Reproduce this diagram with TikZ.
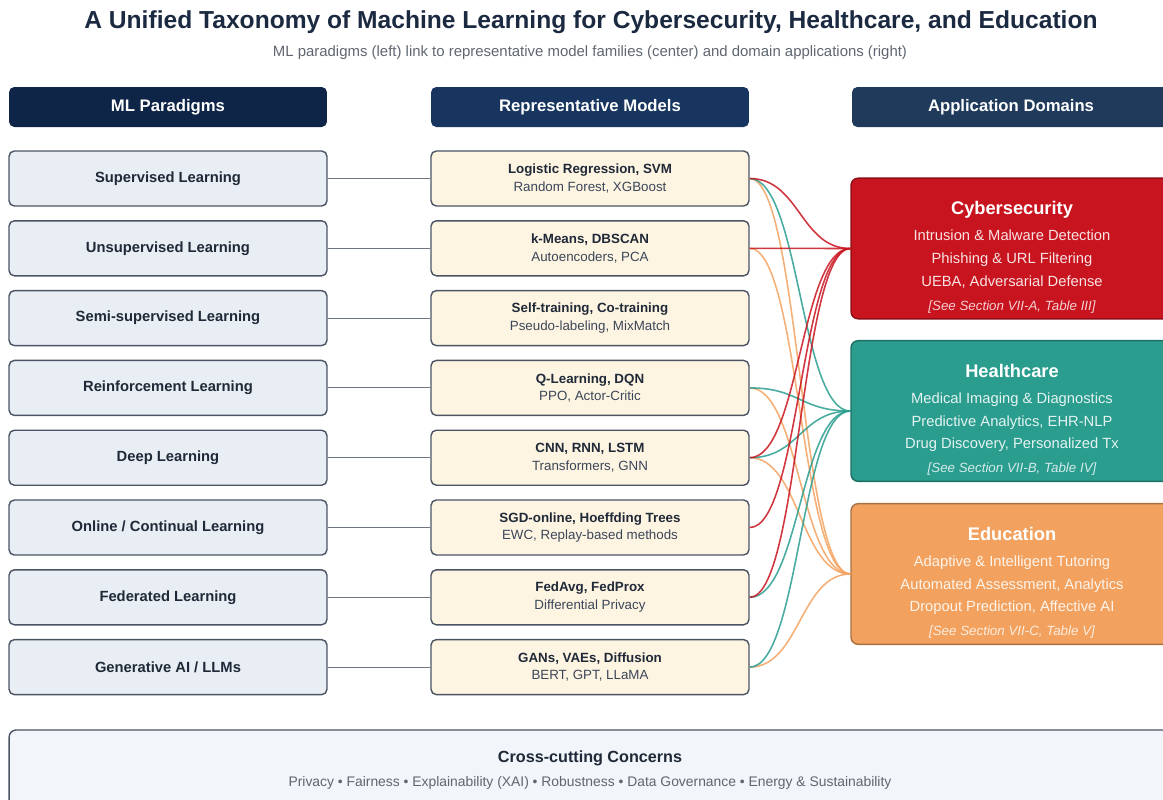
\documentclass[tikz,border=0pt]{standalone}
\usepackage{fontspec}
\setmainfont{Liberation Sans}

\definecolor{titleblue}{HTML}{1B2A41}
\definecolor{navyA}{HTML}{0F2547}
\definecolor{navyB}{HTML}{17355F}
\definecolor{navyC}{HTML}{203A5C}
\definecolor{slate}{HTML}{4A5463}
\definecolor{inkdark}{HTML}{1F2937}
\definecolor{inkmid}{HTML}{3B4658}
\definecolor{subgray}{HTML}{5F6670}
\definecolor{parfill}{HTML}{E9EEF5}
\definecolor{modfill}{HTML}{FDF4E2}
\definecolor{concfill}{HTML}{F2F5F9}
\definecolor{cyred}{HTML}{C8141F}
\definecolor{hlteal}{HTML}{2A9D8F}
\definecolor{edorange}{HTML}{F2A25E}

\begin{document}
\begin{tikzpicture}[x=0.02cm,y=-0.02cm,
    header/.style={fill=#1,rounded corners=3pt,minimum width=6.36cm,minimum height=0.8cm,
      text=white,font=\fontsize{9.5}{11}\selectfont\bfseries},
    paradigm/.style={draw=slate,line width=0.8pt,fill=parfill,rounded corners=3pt,
      minimum width=6.36cm,minimum height=1.1cm,text=inkdark,font=\fontsize{8.4}{10}\selectfont\bfseries},
    family/.style={draw=slate,line width=0.8pt,fill=modfill,rounded corners=3pt,
      minimum width=6.36cm,minimum height=1.1cm,align=center,text=inkmid,font=\fontsize{7.6}{10}\selectfont},
    domain/.style={draw=#1!70!black,line width=0.8pt,fill=#1,rounded corners=4pt,
      minimum width=6.44cm,minimum height=2.78cm,align=center,text=white!88!#1,
      font=\fontsize{8.4}{13}\selectfont},
    link/.style={slate!80,line width=0.6pt},
    flow/.style={#1,line width=0.9pt,opacity=0.85}]

  \useasboundingbox (0,0) rectangle (1163,799);
  \clip (0,0) rectangle (1163,799);

  % title
  \node[text=titleblue,font=\fontsize{14}{16}\selectfont\bfseries] (title) at (591,22)
    {A Unified Taxonomy of Machine Learning for Cybersecurity, Healthcare, and Education};
  \node[text=subgray,font=\fontsize{8.5}{10}\selectfont] (subtitle) at (590,53)
    {ML paradigms (left) link to representative model families (center) and domain applications (right)};

  % column heads
  \node[header=navyA] (hdpar) at (168,107) {ML Paradigms};
  \node[header=navyB] (hdmod) at (590,107) {Representative Models};
  \node[header=navyC] (hddom) at (1011,107) {Application Domains};

  % paradigms and model families
  \foreach \i/\pname/\mbold/\mrest in {
      1/{Supervised Learning}/{Logistic Regression, SVM}/{Random Forest, XGBoost},
      2/{Unsupervised Learning}/{k-Means, DBSCAN}/{Autoencoders, PCA},
      3/{Semi-supervised Learning}/{Self-training, Co-training}/{Pseudo-labeling, MixMatch},
      4/{Reinforcement Learning}/{Q-Learning, DQN}/{PPO, Actor-Critic},
      5/{Deep Learning}/{CNN, RNN, LSTM}/{Transformers, GNN},
      6/{Online / Continual Learning}/{SGD-online, Hoeffding Trees}/{EWC, Replay-based methods},
      7/{Federated Learning}/{FedAvg, FedProx}/{Differential Privacy},
      8/{Generative AI / LLMs}/{GANs, VAEs, Diffusion}/{BERT, GPT, LLaMA}}
  {
    \node[paradigm] (p\i) at (168,{178.5+69.8*(\i-1)}) {\pname};
    \node[family] (m\i) at (590,{178.5+69.8*(\i-1)}) {{\bfseries\color{inkdark}\mbold}\\\mrest};
    \draw[link] (p\i.east) -- (m\i.west);
  }

  % domains
  \node[domain=cyred] (cyber) at (1012,248.5)
    {{\color{white}\fontsize{10.4}{13}\selectfont\bfseries\rule{0pt}{17.5pt}Cybersecurity}\\[1.8pt]
     Intrusion \& Malware Detection\\ Phishing \& URL Filtering\\ UEBA, Adversarial Defense\\[0.5pt]
     {\color{white!80!cyred}\fontsize{7.6}{13}\selectfont\itshape [See Section VII-A, Table III]}};
  \node[domain=hlteal] (health) at (1012,411)
    {{\color{white}\fontsize{10.4}{13}\selectfont\bfseries\rule{0pt}{17.5pt}Healthcare}\\[1.8pt]
     Medical Imaging \& Diagnostics\\ Predictive Analytics, EHR-NLP\\ Drug Discovery, Personalized Tx\\[0.5pt]
     {\color{white!80!hlteal}\fontsize{7.6}{13}\selectfont\itshape [See Section VII-B, Table IV]}};
  \node[domain=edorange] (edu) at (1012,574)
    {{\color{white}\fontsize{10.4}{13}\selectfont\bfseries\rule{0pt}{17.5pt}Education}\\[1.8pt]
     Adaptive \& Intelligent Tutoring\\ Automated Assessment, Analytics\\ Dropout Prediction, Affective AI\\[0.5pt]
     {\color{white!80!edorange}\fontsize{7.6}{13}\selectfont\itshape [See Section VII-C, Table V]}};

  % model -> domain flows
  \foreach \m/\d/\c in {1/edu/edorange,2/edu/edorange,4/edu/edorange,5/edu/edorange,8/edu/edorange,
      1/health/hlteal,4/health/hlteal,5/health/hlteal,7/health/hlteal,8/health/hlteal,
      1/cyber/cyred,2/cyber/cyred,5/cyber/cyred,6/cyber/cyred,7/cyber/cyred}
    \draw[flow=\c] (m\m.east) .. controls +(50,0) and +(-50,0) .. (\d.west);

  % cross-cutting concerns
  \node[draw=slate,line width=0.8pt,fill=concfill,rounded corners=4pt,minimum width=23.24cm,
    minimum height=1.6cm,align=center,text=subgray,font=\fontsize{7.9}{9}\selectfont] (cross) at (590,770)
    {{\color{inkdark}\fontsize{9.2}{11}\selectfont\bfseries Cross-cutting Concerns}\\[5pt]
     Privacy • Fairness • Explainability (XAI) • Robustness • Data Governance • Energy \& Sustainability};
\end{tikzpicture}
\end{document}
